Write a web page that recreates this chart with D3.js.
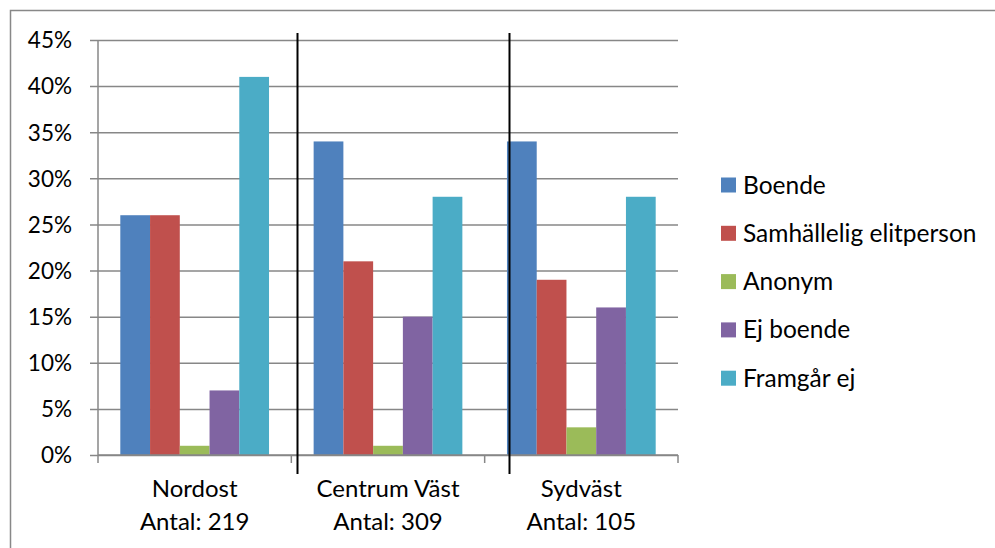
<!DOCTYPE html>
<html>
<head>
<meta charset="utf-8">
<script src="https://cdn.jsdelivr.net/npm/d3@7"></script>
<style>
  body { margin: 0; background: #fff; }
  text { font-family: Lato, "Noto Sans", sans-serif; fill: #000; }
</style>
</head>
<body>
<svg></svg>
<script>
// data
const categories = ['Nordost', 'Centrum Väst', 'Sydväst'];
const counts = ['Antal: 219', 'Antal: 309', 'Antal: 105'];
const seriesNames = ['Boende', 'Samhällelig elitperson', 'Anonym', 'Ej boende', 'Framgår ej'];
const boende = [26, 34, 34];
const samhallelig = [26, 21, 19];
const anonym = [1, 1, 3];
const ejBoende = [7, 15, 16];
const framgarEj = [41, 28, 28];
const yTicks = [0, 5, 10, 15, 20, 25, 30, 35, 40, 45];

const series = [boende, samhallelig, anonym, ejBoende, framgarEj];
const colors = ['#4F81BD', '#C0504D', '#9BBB59', '#8064A2', '#4BACC6'];

const width = 995, height = 548;
const plotLeft = 98, plotRight = 678, plotTop = 40, plotBottom = 455;

const svg = d3.select('svg')
  .attr('width', width)
  .attr('height', height);

// outer chart border
svg.append('rect')
  .attr('x', 10.5).attr('y', 10.5)
  .attr('width', 1000).attr('height', 600)
  .attr('fill', 'none')
  .attr('stroke', '#888')
  .attr('stroke-width', 1.5);

const x0 = d3.scaleBand()
  .domain(categories)
  .range([plotLeft, plotRight]);

// gap width 150% like excel
const groupW = x0.bandwidth();
const gapHalf = groupW * 0.75 / 6.5;
const x1 = d3.scaleBand()
  .domain(d3.range(seriesNames.length))
  .range([gapHalf, groupW - gapHalf]);

const y = d3.scaleLinear()
  .domain([0, 45])
  .range([plotBottom, plotTop]);

// gridlines + y labels
const yAxis = svg.append('g')
  .attr('transform', `translate(${plotLeft},0)`)
  .call(d3.axisLeft(y)
    .tickValues(yTicks)
    .tickSize(8)
    .tickFormat(d => d + '%'));
yAxis.select('.domain').remove();
yAxis.selectAll('.tick line')
  .attr('x2', plotRight - plotLeft)
  .attr('x1', -8)
  .attr('stroke', '#878787')
  .attr('stroke-width', 1.5);
yAxis.selectAll('.tick text')
  .attr('x', -26)
  .attr('dy', '0.35em')
  .style('font-size', '22.5px')
  .style('font-family', 'Lato, sans-serif');

// bars
const groups = svg.append('g')
  .selectAll('g')
  .data(categories)
  .enter()
  .append('g')
  .attr('transform', d => `translate(${x0(d)},0)`);

groups.selectAll('rect')
  .data((d, i) => series.map((s, j) => ({ j: j, v: s[i] })))
  .enter()
  .append('rect')
  .attr('x', d => x1(d.j))
  .attr('width', x1.bandwidth())
  .attr('y', d => y(d.v))
  .attr('height', d => y(0) - y(d.v))
  .attr('fill', d => colors[d.j]);

// y axis line
svg.append('line')
  .attr('x1', plotLeft).attr('x2', plotLeft)
  .attr('y1', plotTop).attr('y2', plotBottom)
  .attr('stroke', '#878787')
  .attr('stroke-width', 1.5);

// x axis
const xAxis = svg.append('g')
  .attr('transform', `translate(0,${plotBottom})`);
xAxis.append('line')
  .attr('x1', plotLeft).attr('x2', plotRight)
  .attr('stroke', '#878787')
  .attr('stroke-width', 1.5);
xAxis.selectAll('line.tk')
  .data([plotLeft].concat(categories.map(c => x0(c) + groupW)))
  .enter()
  .append('line')
  .attr('class', 'tk')
  .attr('x1', d => d).attr('x2', d => d)
  .attr('y1', 0).attr('y2', 8)
  .attr('stroke', '#878787')
  .attr('stroke-width', 1.5);

const labels = xAxis.selectAll('text.cat')
  .data(categories)
  .enter()
  .append('text')
  .attr('class', 'cat')
  .attr('text-anchor', 'middle')
  .style('font-size', '24px');
labels.append('tspan')
  .attr('x', d => x0(d) + groupW / 2)
  .attr('y', 42)
  .text(d => d);
labels.append('tspan')
  .attr('x', d => x0(d) + groupW / 2)
  .attr('y', 75)
  .text((d, i) => counts[i]);

// black separators drawn on the chart
svg.selectAll('line.sep')
  .data([297.5, 509.5])
  .enter()
  .append('line')
  .attr('class', 'sep')
  .attr('x1', d => d).attr('x2', d => d)
  .attr('y1', 33).attr('y2', 474)
  .attr('stroke', '#000')
  .attr('stroke-width', 2);

// legend
const legend = svg.append('g')
  .selectAll('g')
  .data(seriesNames)
  .enter()
  .append('g')
  .attr('transform', (d, i) => `translate(721,${185 + i * 48.3})`);
legend.append('rect')
  .attr('x', 0).attr('y', -7.5)
  .attr('width', 15).attr('height', 15)
  .attr('fill', (d, i) => colors[i]);
legend.append('text')
  .attr('x', 22)
  .attr('dy', '0.35em')
  .style('font-size', '24.5px')
  .text(d => d);
</script>
</body>
</html>
